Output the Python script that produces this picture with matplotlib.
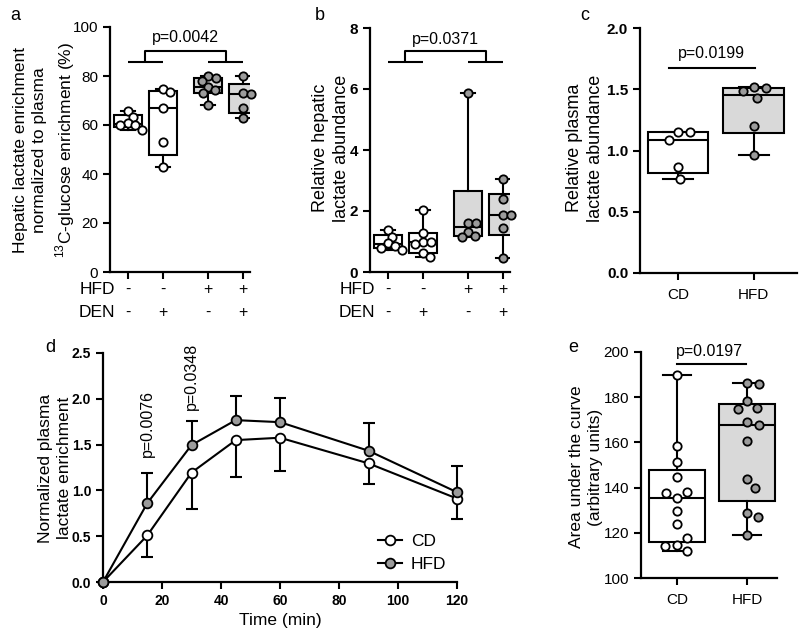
import numpy as np
import matplotlib
matplotlib.use('Agg')
import matplotlib.pyplot as plt
from matplotlib.lines import Line2D

plt.rcParams['font.family'] = ['Liberation Sans', 'DejaVu Sans']
plt.rcParams['mathtext.fontset'] = 'custom'
plt.rcParams['mathtext.rm'] = 'Liberation Sans'

# ---- data ----
# panel a: hepatic lactate enrichment (%), groups HFD-/DEN-, HFD-/DEN+, HFD+/DEN-, HFD+/DEN+
a_groups = [
    [65.7, 63.3, 61.0, 60.0, 59.8, 58.0],
    [74.6, 73.3, 67.1, 52.9, 43.0],
    [80.0, 79.1, 78.0, 75.6, 74.2, 73.0, 68.0],
    [80.1, 73.2, 72.5, 67.1, 62.7],
]
# panel b: relative hepatic lactate abundance
b_groups = [
    [1.38, 1.16, 0.95, 0.86, 0.80, 0.72],
    [2.03, 1.27, 1.00, 0.97, 0.93, 0.62, 0.50],
    [5.86, 1.60, 1.60, 1.32, 1.18, 1.16],
    [3.05, 2.39, 1.87, 1.87, 1.45, 0.45],
]
hfd_signs = ['-', '-', '+', '+']
den_signs = ['-', '+', '-', '+']

# panel c: relative plasma lactate abundance
c_cd = [1.149, 1.149, 1.086, 0.863, 0.767]
c_hfd = [1.521, 1.508, 1.486, 1.426, 1.202, 0.963]

# panel d: normalized plasma lactate enrichment over time
d_time = [0, 15, 30, 45, 60, 90, 120]
d_cd = [0, 0.508, 1.194, 1.549, 1.575, 1.295, 0.911]
d_cd_sd = [0, 0.24, 0.396, 0.406, 0.363, 0.228, 0.218]
d_hfd = [0, 0.86, 1.495, 1.767, 1.745, 1.433, 0.98]
d_hfd_sd = [0, 0.334, 0.265, 0.265, 0.265, 0.298, 0.286]

# panel e: area under the curve
e_cd = [189.8, 158.5, 151.2, 144.6, 135.3, 138.2, 137.5, 129.6, 123.8, 114.6, 117.6, 114.2, 111.9]
e_hfd = [186.1, 185.7, 178.3, 175.4, 174.8, 168.9, 167.7, 160.8, 143.8, 139.7, 128.6, 127.1, 119.0]

WHITE = 'white'
GREY_PT = '#9b9b9b'
GREY_BOX = '#d9d9d9'

W, H = 800, 634
fig = plt.figure(figsize=(8, 6.34), dpi=100)


def add_ax(l, t, r, b):
    return fig.add_axes([l / W, 1 - b / H, (r - l) / W, (b - t) / H])


def ftext(x, y, s, **kw):
    fig.text(x / W, 1 - y / H, s, **kw)


def style(ax, bold=False, size=11):
    for s in ['top', 'right']:
        ax.spines[s].set_visible(False)
    for s in ['left', 'bottom']:
        ax.spines[s].set_linewidth(1.6)
    ax.tick_params(width=1.5, length=5, labelsize=size, direction='out')
    if bold:
        for lab in ax.get_yticklabels() + ax.get_xticklabels():
            lab.set_fontweight('bold')


def box_stats(vals):
    v = np.asarray(vals)
    q1, med, q3 = np.percentile(v, [25, 50, 75], method='weibull')
    return dict(med=med, q1=q1, q3=q3, whislo=v.min(), whishi=v.max(), fliers=[])


def swarm(ax, vals, d=8.0):
    # spread points sideways so that markers don't overlap (in pixels)
    py = ax.transData.transform(np.column_stack([np.zeros(len(vals)), vals]))[:, 1]
    ppu = ax.transData.transform((1, 0))[0] - ax.transData.transform((0, 0))[0]
    placed = []
    offs = []
    for y in py:
        cands = [0.0]
        for px, yy in placed:
            dy = abs(y - yy)
            if dy < d:
                w = np.sqrt(d * d - dy * dy)
                cands += [px + w, px - w]
        cands = sorted(cands, key=lambda c: (abs(round(c, 3)), -c))
        for c in cands:
            if all((c - px) ** 2 + (y - yy) ** 2 >= d * d - 1e-6 for px, yy in placed):
                break
        placed.append((c, y))
        offs.append(c / ppu)
    return np.array(offs)


def boxes(ax, groups, pos, colors, width=0.8, spread=8.0):
    for g, p, col in zip(groups, pos, colors):
        ax.bxp([box_stats(g)], positions=[p], widths=width, capwidths=width / 2,
               patch_artist=True, showfliers=False, manage_ticks=False,
               boxprops=dict(facecolor=GREY_BOX if col != WHITE else WHITE,
                             edgecolor='black', linewidth=1.5),
               whiskerprops=dict(color='black', linewidth=1.5),
               capprops=dict(color='black', linewidth=1.5),
               medianprops=dict(color='black', linewidth=1.5))
        off = swarm(ax, g, spread)
        ax.plot(p + off, g, 'o', ms=6, mfc=col, mec='black', mew=1.3,
                ls='none', zorder=5, clip_on=False)


def bracket(ax, pos, lo, hi, text, ty):
    m1 = (pos[0] + pos[1]) / 2
    m2 = (pos[2] + pos[3]) / 2
    kw = dict(color='black', lw=1.5, clip_on=False, solid_capstyle='butt')
    ax.plot([pos[0], pos[1]], [lo, lo], **kw)
    ax.plot([pos[2], pos[3]], [lo, lo], **kw)
    ax.plot([m1, m1, m2, m2], [lo, hi, hi, lo], **kw)
    ax.text((m1 + m2) / 2, ty, text, ha='center', va='center', fontsize=11.5)


def sign_rows(ax, pos, label_x):
    tr = ax.get_xaxis_transform()
    for ytxt, name, signs in [(-0.072, 'HFD', hfd_signs), (-0.166, 'DEN', den_signs)]:
        ax.text(label_x, ytxt, name, transform=ax.transAxes, ha='right', va='center', fontsize=12.5)
        for p, s in zip(pos, signs):
            ax.text(p, ytxt, s, transform=tr, ha='center', va='center', fontsize=11.5)


pos4 = [1, 2, 3.29, 4.29]
cols4 = [WHITE, WHITE, GREY_PT, GREY_PT]

# ---------- panel a ----------
ax = add_ax(110, 27, 250, 272)
ax.set_xlim(0.486, 4.49)
ax.set_ylim(0, 100)
ax.set_yticks([0, 20, 40, 60, 80, 100])
ax.set_xticks(pos4)
ax.set_xticklabels([])
style(ax)
boxes(ax, a_groups, pos4, cols4)
bracket(ax, pos4, 85.7, 90.2, 'p=0.0042', 95.8)
sign_rows(ax, pos4, 0.036)
ftext(15, 15, 'a', fontsize=13, ha='center', va='center')
ftext(45, 150, 'Hepatic lactate enrichment\nnormalized to plasma\n$^{13}$C-glucose enrichment (%)',
      rotation=90, ha='center', va='center', multialignment='center', fontsize=12.5, linespacing=1.35)

# ---------- panel b ----------
ax = add_ax(370, 28, 510, 272)
ax.set_xlim(0.486, 4.49)
ax.set_ylim(0, 8)
ax.set_yticks([0, 2, 4, 6, 8])
ax.set_xticks(pos4)
ax.set_xticklabels([])
style(ax, bold=True)
boxes(ax, b_groups, pos4, cols4)
bracket(ax, pos4, 6.87, 7.24, 'p=0.0371', 7.62)
sign_rows(ax, pos4, 0.036)
ftext(320, 15, 'b', fontsize=13, ha='center', va='center')
ftext(331, 148, 'Relative hepatic\nlactate abundance', rotation=90, ha='center', va='center',
      multialignment='center', fontsize=13, linespacing=1.35)

# ---------- panel c ----------
ax = add_ax(640, 28, 797, 273)
ax.set_xlim(0.5, 2.57)
ax.set_ylim(0, 2.0)
ax.set_yticks([0, 0.5, 1.0, 1.5, 2.0])
ax.set_xticks([1, 2])
ax.set_xticklabels(['CD', 'HFD'])
style(ax, bold=True)
for lab in ax.get_xticklabels():
    lab.set_fontweight('normal')
ax.tick_params(axis='x', pad=6)
boxes(ax, [c_cd, c_hfd], [1, 2], [WHITE, GREY_PT], spread=12.0)
ax.plot([0.88, 2.01], [1.67, 1.67], color='black', lw=1.5)
ax.text(1.44, 1.79, 'p=0.0199', ha='center', va='center', fontsize=11.5)
ftext(585, 15, 'c', fontsize=13, ha='center', va='center')
ftext(585, 148, 'Relative plasma\nlactate abundance', rotation=90, ha='center', va='center',
      multialignment='center', fontsize=13, linespacing=1.35)

# ---------- panel d ----------
ax = add_ax(103, 353, 457, 582)
ax.set_xlim(0, 120)
ax.set_ylim(0, 2.5)
ax.set_xticks([0, 20, 40, 60, 80, 100, 120])
ax.set_yticks([0, 0.5, 1.0, 1.5, 2.0, 2.5])
style(ax, bold=True, size=10)
t = np.array(d_time)
zeros = np.zeros(len(t))
for y, sd, col, lower in [(d_cd, d_cd_sd, WHITE, True), (d_hfd, d_hfd_sd, GREY_PT, False)]:
    y = np.array(y)
    err = [sd, zeros] if lower else [zeros, sd]
    eb = ax.errorbar(t, y, yerr=err, fmt='none', ecolor='black', elinewidth=1.5,
                     capsize=4.5, capthick=1.5, zorder=2, clip_on=False)
    for cap in eb[1]:
        if np.allclose(cap.get_ydata(), y):
            cap.set_visible(False)
    ax.plot(t, y, '-o', color='black', lw=1.5, ms=7, mfc=col, mec='black', mew=1.3,
            zorder=4, clip_on=False)
ax.text(15, 1.36, 'p=0.0076', rotation=90, ha='center', va='bottom', fontsize=11.5)
ax.text(30, 1.88, 'p=0.0348', rotation=90, ha='center', va='bottom', fontsize=11.5)
handles = [Line2D([], [], color='black', lw=1.5, marker='o', ms=7, mfc=WHITE, mec='black', mew=1.3),
           Line2D([], [], color='black', lw=1.5, marker='o', ms=7, mfc=GREY_PT, mec='black', mew=1.3)]
ax.legend(handles, ['CD', 'HFD'], loc='lower right', bbox_to_anchor=(1.0, 0.0), frameon=False,
          fontsize=12.5, handlelength=1.4, handletextpad=0.5, borderaxespad=0.2, labelspacing=0.45)
ax.set_xlabel('Time (min)', fontsize=12.5, labelpad=4)
ftext(50, 347, 'd', fontsize=13, ha='center', va='center')
ftext(55, 468, 'Normalized plasma\nlactate enrichment', rotation=90, ha='center', va='center',
      multialignment='center', fontsize=12.5, linespacing=1.3)

# ---------- panel e ----------
ax = add_ax(641, 352, 777, 578)
ax.set_xlim(0.486, 2.43)
ax.set_ylim(100, 200)
ax.set_yticks([100, 120, 140, 160, 180, 200])
ax.set_xticks([1, 2])
ax.set_xticklabels(['CD', 'HFD'])
style(ax)
ax.tick_params(axis='x', pad=6)
boxes(ax, [e_cd, e_hfd], [1, 2], [WHITE, GREY_PT], spread=12.0)
ax.plot([1.0, 1.98], [194.6, 194.6], color='black', lw=1.5)
ax.text(1.47, 200, 'p=0.0197', ha='center', va='center', fontsize=11.5)
ftext(573, 347, 'e', fontsize=13, ha='center', va='center')
ftext(586, 467, 'Area under the curve\n(arbitrary units)', rotation=90, ha='center', va='center',
      multialignment='center', fontsize=12.5, linespacing=1.35)

fig.savefig('out.png', dpi=100)
